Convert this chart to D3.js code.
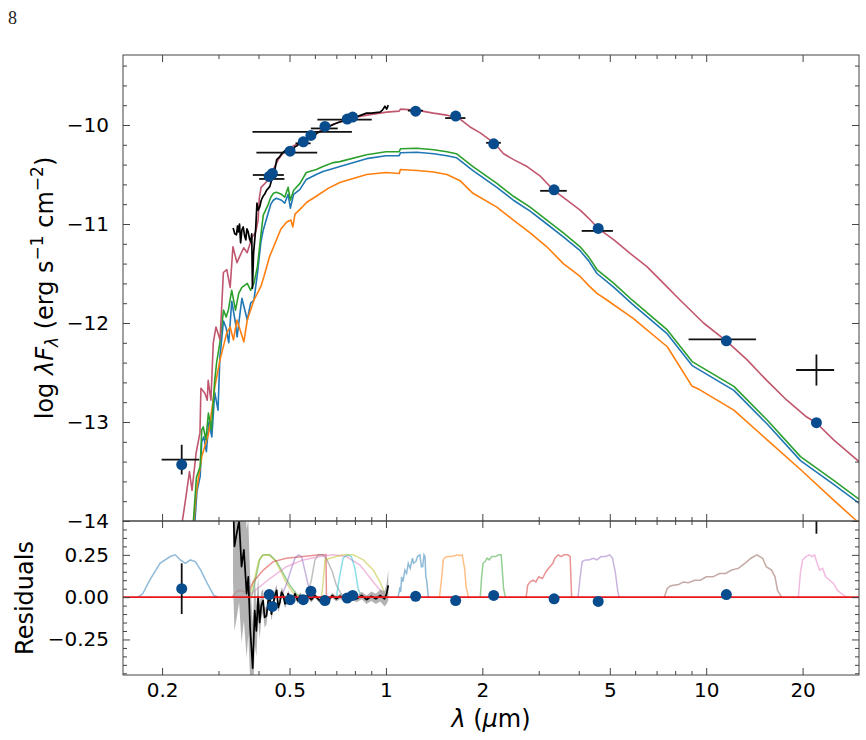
<!DOCTYPE html>
<html>
<head>
<meta charset="utf-8">
<script src="https://cdn.jsdelivr.net/npm/d3@7"></script>
<style>
  body { margin: 0; background: #fff; }
  svg { display: block; font-family: "DejaVu Sans", sans-serif; }
</style>
</head>
<body>
<svg id="chart" width="866" height="740"></svg>
<script>
// ---- photometry: wavelength (um), half width (um), observed log flux, error, model log flux
const photWave  = [0.2303, 0.432, 0.442, 0.502, 0.552, 0.583, 0.645, 0.757, 0.787, 1.238, 1.651, 2.17, 3.35, 4.60, 11.56, 22.09];
const photWidth = [0.031, 0.048, 0.040, 0.108, 0.030, 0.200, 0.062, 0.146, 0.020, 0.067, 0.12, 0.115, 0.32, 0.515, 2.75, 3.0];
const photFlux  = [-13.38, -10.505, -10.545, -10.28, -10.185, -10.07, -10.035, -9.945, -9.91, -9.855, -9.93, -10.18, -10.665, -11.07, -12.165, -12.475];
const photErr   = [0.15, 0.01, 0.01, 0.01, 0.01, 0.01, 0.01, 0.01, 0.01, 0.01, 0.01, 0.01, 0.01, 0.01, 0.01, 0.157];
const photModel = [-13.43, -10.52, -10.49, -10.265, -10.17, -10.105, -10.015, -9.94, -9.92, -9.86, -9.91, -10.19, -10.655, -11.045, -12.18, -13.007];

// ---- model spectra [wavelength, log lambda F_lambda]
const modelBest = [[0.229,-14.1],[0.2366,-13.79],[0.2435,-13.5],[0.248,-13.69],[0.2555,-13.31],[0.2626,-13.11],[0.2644,-12.66],[0.2721,-12.71],[0.2767,-12.78],[0.2786,-12.58],[0.2841,-12.78],[0.289,-12.2],[0.2947,-12.04],[0.3034,-12.17],[0.3108,-11.49],[0.3185,-11.46],[0.3263,-11.64],[0.3328,-11.23],[0.3426,-11.39],[0.3492,-11.33],[0.3597,-11.24],[0.3687,-11.29],[0.3826,-11.13],[0.3921,-11.08],[0.399,-10.96],[0.402,-10.75],[0.4075,-10.63],[0.4275,-10.56],[0.4446,-10.45],[0.4611,-10.35],[0.4782,-10.28],[0.5074,-10.22],[0.5387,-10.18],[0.5793,-10.12],[0.6522,-10.02],[0.7535,-9.94],[0.8703,-9.9],[1.005,-9.87],[1.1,-9.86],[1.11,-9.84],[1.247,-9.85],[1.406,-9.88],[1.547,-9.9],[1.703,-9.94],[1.831,-10.02],[1.97,-10.08],[2.173,-10.18],[2.33,-10.29],[2.504,-10.35],[2.759,-10.42],[3.04,-10.52],[3.345,-10.66],[3.674,-10.76],[4.04,-10.86],[4.29,-10.94],[4.62,-11.05],[5.15,-11.16],[5.8,-11.3],[6.53,-11.43],[7.36,-11.6],[8.3,-11.77],[9.81,-12.0],[11.55,-12.18],[13.4,-12.37],[15.45,-12.58],[17.86,-12.78],[20.6,-12.95],[22.1,-13.01],[25.0,-13.18],[30.0,-13.4]];
const modelGreen = [[0.248,-14.2],[0.256,-13.56],[0.263,-13.45],[0.266,-13.08],[0.269,-13.05],[0.274,-13.18],[0.279,-12.91],[0.285,-13.08],[0.292,-12.58],[0.296,-12.4],[0.303,-12.2],[0.311,-11.87],[0.317,-11.94],[0.322,-11.87],[0.33,-11.67],[0.339,-11.87],[0.347,-11.7],[0.355,-11.64],[0.369,-11.6],[0.378,-11.67],[0.387,-11.6],[0.397,-11.43],[0.407,-11.11],[0.414,-10.91],[0.428,-10.81],[0.437,-10.73],[0.445,-10.69],[0.455,-10.68],[0.472,-10.7],[0.483,-10.73],[0.495,-10.63],[0.503,-10.76],[0.515,-10.66],[0.539,-10.59],[0.564,-10.48],[0.606,-10.45],[0.636,-10.42],[0.685,-10.38],[0.718,-10.37],[0.87,-10.3],[1.0,-10.27],[1.1,-10.27],[1.11,-10.24],[1.25,-10.235],[1.41,-10.25],[1.55,-10.27],[1.66,-10.29],[1.87,-10.42],[2.22,-10.59],[2.5,-10.72],[2.82,-10.83],[3.18,-10.96],[3.58,-11.09],[4.04,-11.23],[4.29,-11.33],[4.56,-11.46],[5.15,-11.6],[5.88,-11.77],[7.56,-12.07],[9.04,-12.39],[12.2,-12.64],[15.5,-12.98],[19.7,-13.35],[25.0,-13.59],[30.0,-13.78]];
const modelBlue = [[0.252,-14.1],[0.257,-13.7],[0.263,-13.55],[0.266,-13.2],[0.27,-13.15],[0.275,-13.3],[0.28,-13.0],[0.286,-13.15],[0.292,-12.7],[0.299,-12.88],[0.303,-12.35],[0.311,-11.98],[0.317,-12.05],[0.323,-12.2],[0.33,-11.78],[0.339,-12.0],[0.343,-12.14],[0.355,-11.75],[0.369,-11.97],[0.378,-11.8],[0.387,-11.77],[0.397,-11.5],[0.407,-11.18],[0.414,-11.06],[0.428,-10.9],[0.437,-10.8],[0.445,-10.76],[0.455,-10.74],[0.472,-10.76],[0.483,-10.79],[0.495,-10.7],[0.503,-10.84],[0.515,-10.7],[0.539,-10.65],[0.564,-10.55],[0.606,-10.5],[0.636,-10.47],[0.685,-10.44],[0.718,-10.42],[0.87,-10.34],[1.0,-10.31],[1.1,-10.31],[1.11,-10.28],[1.25,-10.275],[1.41,-10.29],[1.55,-10.31],[1.66,-10.33],[1.87,-10.46],[2.22,-10.63],[2.5,-10.76],[2.82,-10.87],[3.18,-11.0],[3.58,-11.13],[4.04,-11.27],[4.29,-11.37],[4.56,-11.5],[5.15,-11.64],[5.88,-11.81],[7.56,-12.11],[9.04,-12.43],[12.2,-12.68],[15.5,-13.02],[19.7,-13.39],[25.0,-13.63],[30.0,-13.82]];
const modelOrange = [[0.25,-14.1],[0.2555,-13.72],[0.266,-13.35],[0.2797,-13.11],[0.2924,-12.64],[0.3034,-12.37],[0.3185,-12.1],[0.3263,-12.04],[0.334,-12.17],[0.3426,-11.97],[0.36,-12.19],[0.369,-11.97],[0.387,-11.77],[0.407,-11.63],[0.416,-11.53],[0.433,-11.33],[0.45,-11.2],[0.47,-11.05],[0.49,-10.98],[0.505,-10.96],[0.512,-11.03],[0.52,-10.9],[0.54,-10.85],[0.566,-10.78],[0.606,-10.72],[0.66,-10.64],[0.718,-10.58],[0.87,-10.5],[1.0,-10.48],[1.1,-10.49],[1.11,-10.45],[1.25,-10.46],[1.41,-10.475],[1.55,-10.5],[1.7,-10.56],[1.87,-10.69],[2.22,-10.83],[2.5,-10.96],[2.82,-11.09],[3.18,-11.23],[3.58,-11.4],[4.04,-11.53],[4.29,-11.62],[4.56,-11.7],[4.91,-11.77],[5.9,-11.95],[7.56,-12.24],[9.04,-12.64],[9.5,-12.67],[12.2,-12.88],[15.5,-13.18],[19.7,-13.48],[25.0,-13.79],[29.3,-13.99],[30.0,-14.02]];

// ---- observed spectrum and its residuals [wavelength, residual, error]
const specFlux = [[0.3333,-11.04],[0.3375,-11.1],[0.3414,-11.11],[0.344,-11.02],[0.346,-11.08],[0.349,-11.0],[0.3517,-11.19],[0.355,-11.06],[0.3584,-11.03],[0.362,-11.12],[0.3652,-11.16],[0.368,-11.05],[0.3714,-11.08],[0.375,-11.15],[0.3784,-11.18],[0.381,-11.1],[0.383,-11.65],[0.386,-11.3],[0.3893,-11.16],[0.392,-11.05],[0.3956,-10.79],[0.399,-10.86],[0.4033,-10.83],[0.408,-10.76],[0.4133,-10.72],[0.418,-10.7],[0.4236,-10.66],[0.429,-10.64],[0.4341,-10.62],[0.44,-10.55],[0.4448,-10.49],[0.45,-10.45],[0.4559,-10.35],[0.463,-10.33],[0.4726,-10.29],[0.48,-10.27],[0.4899,-10.24],[0.497,-10.27],[0.5078,-10.3],[0.5196,-10.22],[0.528,-10.21],[0.5387,-10.18],[0.55,-10.17],[0.565,-10.15],[0.5928,-10.12],[0.61,-10.08],[0.63,-10.06],[0.6522,-10.02],[0.67,-10.01],[0.69,-9.99],[0.7181,-9.97],[0.74,-9.96],[0.7905,-9.92],[0.82,-9.91],[0.8703,-9.88],[0.9,-9.88],[0.9578,-9.87],[0.975,-9.85],[0.9928,-9.81],[1.005,-9.84],[1.017,-9.8]];
const specResid = [[0.333,0.6,0.5],[0.3365,0.3,0.5],[0.3414,0.37,0.5],[0.348,0.45,0.48],[0.3541,0.18,0.45],[0.3601,0.28,0.42],[0.3673,0.02,0.38],[0.3717,0.12,0.34],[0.3766,-0.18,0.3],[0.3837,-0.42,0.26],[0.3893,-0.08,0.2],[0.394,-0.2,0.15],[0.399,0.0,0.12],[0.4033,-0.15,0.1],[0.408,-0.05,0.08],[0.4133,-0.02,0.07],[0.418,-0.12,0.06],[0.4236,-0.11,0.05],[0.429,-0.02,0.05],[0.4341,0.0,0.045],[0.439,-0.1,0.04],[0.4448,-0.04,0.04],[0.45,0.01,0.035],[0.4559,0.04,0.035],[0.461,-0.06,0.03],[0.4668,-0.03,0.03],[0.472,0.03,0.03],[0.4783,0.01,0.025],[0.484,-0.04,0.025],[0.4899,-0.02,0.025],[0.495,0.02,0.02],[0.5012,0.0,0.02],[0.51,-0.03,0.02],[0.52,0.02,0.02],[0.53,-0.02,0.02],[0.54,0.01,0.018],[0.555,-0.02,0.018],[0.57,0.01,0.016],[0.585,-0.015,0.016],[0.6,0.01,0.015],[0.62,-0.02,0.015],[0.64,0.0,0.015],[0.66,-0.02,0.015],[0.68,0.01,0.015],[0.7,-0.01,0.016],[0.72,0.005,0.016],[0.75,-0.015,0.018],[0.78,0.005,0.018],[0.81,-0.01,0.02],[0.84,0.01,0.022],[0.87,-0.015,0.025],[0.9,0.005,0.028],[0.93,-0.01,0.03],[0.96,0.01,0.035],[0.99,-0.01,0.045],[1.005,0.02,0.06],[1.017,0.07,0.09]];

// ---- filter transmission curves (scaled to 0.25) [wavelength, value]
const filtNUV = [[0.168,0],[0.174,0.02],[0.183,0.1],[0.197,0.2],[0.212,0.24],[0.22,0.25],[0.228,0.22],[0.2365,0.2],[0.245,0.22],[0.254,0.21],[0.264,0.16],[0.277,0.08],[0.29,0.01],[0.3,0]];
const filtBT = [[0.381,0],[0.394,0.13],[0.403,0.22],[0.4133,0.25],[0.434,0.25],[0.456,0.21],[0.478,0.14],[0.501,0.07],[0.525,0.02],[0.545,0]];
const filtB = [[0.375,0],[0.39,0.12],[0.4,0.21],[0.41,0.245],[0.43,0.25],[0.45,0.22],[0.47,0.15],[0.49,0.08],[0.515,0.02],[0.54,0]];
const filtBP = [[0.331,0],[0.34,0.03],[0.35,0.04],[0.362,0.03],[0.372,0.03],[0.385,0.09],[0.414,0.16],[0.445,0.21],[0.489,0.23],[0.551,0.24],[0.621,0.25],[0.65,0.25],[0.652,0]];
const filtV = [[0.47,0],[0.49,0.08],[0.505,0.16],[0.52,0.23],[0.533,0.25],[0.545,0.24],[0.558,0.16],[0.572,0.07],[0.59,0.01],[0.6,0]];
const filtR = [[0.565,0],[0.585,0.1],[0.6,0.22],[0.615,0.25],[0.635,0.25],[0.655,0.22],[0.68,0.15],[0.7,0.07],[0.725,0.02],[0.74,0]];
const filtG = [[0.367,0],[0.385,0.03],[0.434,0.11],[0.489,0.18],[0.551,0.22],[0.621,0.24],[0.685,0.25],[0.753,0.24],[0.83,0.19],[0.913,0.09],[0.98,0.02],[1.0,0]];
const filtI = [[0.7,0],[0.718,0.13],[0.735,0.23],[0.757,0.25],[0.78,0.24],[0.8,0.17],[0.819,0.05],[0.839,0]];
const filtRP = [[0.629,0],[0.637,0.09],[0.645,0.22],[0.668,0.23],[0.7,0.24],[0.735,0.25],[0.79,0.25],[0.85,0.22],[0.913,0.16],[0.958,0.09],[0.993,0.02],[1.017,0]];
const filtJ = [[1.09,0],[1.1,0.03],[1.106,0.06],[1.112,0.03],[1.119,0.12],[1.13,0.09],[1.146,0.16],[1.16,0.14],[1.174,0.2],[1.19,0.17],[1.21,0.23],[1.22,0.2],[1.24,0.21],[1.255,0.24],[1.277,0.25],[1.29,0.18],[1.302,0.18],[1.315,0.25],[1.324,0.24],[1.332,0.12],[1.34,0.1],[1.356,0]];
const filtH = [[1.47,0],[1.49,0.1],[1.51,0.22],[1.53,0.235],[1.56,0.24],[1.6,0.24],[1.64,0.245],[1.67,0.25],[1.7,0.245],[1.73,0.25],[1.76,0.17],[1.78,0.06],[1.81,0]];
const filtKs = [[1.97,0],[1.99,0.12],[2.01,0.2],[2.04,0.21],[2.07,0.23],[2.1,0.22],[2.14,0.24],[2.2,0.24],[2.25,0.25],[2.29,0.25],[2.31,0.15],[2.33,0.05],[2.36,0]];
const filtW1 = [[2.74,0],[2.77,0.07],[2.82,0.09],[2.88,0.1],[2.94,0.09],[3.0,0.12],[3.08,0.11],[3.16,0.15],[3.25,0.18],[3.32,0.2],[3.37,0.23],[3.45,0.25],[3.52,0.24],[3.6,0.25],[3.7,0.25],[3.76,0.24],[3.8,0]];
const filtW2 = [[3.98,0],[4.03,0.1],[4.1,0.21],[4.2,0.22],[4.3,0.22],[4.45,0.23],[4.55,0.22],[4.7,0.24],[4.85,0.24],[5.0,0.25],[5.1,0.23],[5.2,0.15],[5.3,0.03],[5.35,0]];
const filtW3 = [[7.4,0],[7.55,0.05],[7.7,0.065],[7.9,0.07],[8.2,0.075],[8.5,0.09],[8.8,0.085],[9.2,0.1],[9.6,0.1],[10.0,0.12],[10.5,0.12],[11.0,0.14],[11.5,0.14],[12.0,0.16],[12.6,0.17],[13.2,0.2],[13.8,0.23],[14.4,0.25],[15.0,0.23],[15.4,0.18],[16.0,0.16],[16.4,0.12],[16.7,0.04],[17.2,0]];
const filtW4 = [[19.4,0],[19.7,0.15],[20.0,0.22],[20.5,0.24],[21.0,0.25],[21.4,0.24],[21.8,0.25],[22.2,0.2],[22.6,0.16],[23.1,0.17],[23.6,0.12],[24.3,0.1],[25.0,0.08],[25.7,0.04],[26.5,0.02],[27.4,0]];

// ---- ticks
const xMajor = [0.2, 0.5, 1, 2, 5, 10, 20];
const xMinor = [0.3, 0.4, 0.6, 0.7, 0.8, 0.9, 3, 4, 6, 7, 8, 9];
const yTopMajor = [-14, -13, -12, -11, -10];
const yResMajor = [-0.25, 0, 0.25];

const svg = d3.select("#chart");
const pLeft = 123, pRight = 859, pTop = 55, pMid = 521, pBottom = 675;

const x = d3.scaleLog().domain([0.151, 30.0]).range([pLeft, pRight]);
const yTop = d3.scaleLinear().domain([-14, -9.293]).range([pMid, pTop]);
const yRes = d3.scaleLinear().domain([-0.46, 0.45]).range([pBottom, pMid]);

// minor tick positions
const yTopMinor = [];
for (let i = 0; i <= 23; i++) { if (i % 5 !== 0) yTopMinor.push(-14 + i * 0.2); }
const yResMinor = [];
for (let i = -9; i <= 9; i++) { if (i % 5 !== 0) yResMinor.push(i * 0.05); }

// clip paths
const defs = svg.append("defs");
defs.append("clipPath").attr("id", "clipTop").append("rect")
    .attr("x", pLeft).attr("y", pTop).attr("width", pRight - pLeft).attr("height", pMid - pTop);
defs.append("clipPath").attr("id", "clipRes").append("rect")
    .attr("x", pLeft).attr("y", pMid).attr("width", pRight - pLeft).attr("height", pBottom - pMid);

// ---------------- top panel
const gTop = svg.append("g").attr("clip-path", "url(#clipTop)");
const lineTop = d3.line().x(d => x(d[0])).y(d => yTop(d[1]));

const models = [
    { data: modelBlue,   color: "#1f77b4" },
    { data: modelOrange, color: "#ff7f0e" },
    { data: modelGreen,  color: "#2ca02c" },
    { data: modelBest,   color: "#c0576f" }
];
models.forEach(m => {
    gTop.append("path").datum(m.data)
        .attr("d", lineTop).attr("fill", "none")
        .attr("stroke", m.color).attr("stroke-width", 1.6).attr("stroke-linejoin", "round");
});
gTop.append("path").datum(specFlux)
    .attr("d", lineTop).attr("fill", "none")
    .attr("stroke", "#000").attr("stroke-width", 1.7).attr("stroke-linejoin", "round");

// error bars
photWave.forEach((w, i) => {
    gTop.append("line")
        .attr("x1", x(w - photWidth[i])).attr("x2", x(w + photWidth[i]))
        .attr("y1", yTop(photFlux[i])).attr("y2", yTop(photFlux[i]))
        .attr("stroke", "#111").attr("stroke-width", 1.8);
    gTop.append("line")
        .attr("x1", x(w)).attr("x2", x(w))
        .attr("y1", yTop(photFlux[i] - photErr[i])).attr("y2", yTop(photFlux[i] + photErr[i]))
        .attr("stroke", "#111").attr("stroke-width", 1.8);
});
gTop.selectAll("circle.model").data(photWave).join("circle")
    .attr("cx", d => x(d)).attr("cy", (d, i) => yTop(photModel[i]))
    .attr("r", 5.5).attr("fill", "#084c8d");

// ---------------- residual panel
const gRes = svg.append("g").attr("clip-path", "url(#clipRes)");
const lineRes = d3.line().x(d => x(d[0])).y(d => yRes(d[1]));

const filters = [
    { data: filtNUV, color: "#1f77b4" },
    { data: filtBT,  color: "#2ca02c" },
    { data: filtB,   color: "#bcbd22" },
    { data: filtBP,  color: "#d62728" },
    { data: filtV,   color: "#9467bd" },
    { data: filtR,   color: "#7f7f7f" },
    { data: filtG,   color: "#e377c2" },
    { data: filtI,   color: "#17becf" },
    { data: filtRP,  color: "#bcbd22" },
    { data: filtJ,   color: "#1f77b4" },
    { data: filtH,   color: "#ff7f0e" },
    { data: filtKs,  color: "#2ca02c" },
    { data: filtW1,  color: "#d62728" },
    { data: filtW2,  color: "#9467bd" },
    { data: filtW3,  color: "#8c564b" },
    { data: filtW4,  color: "#e377c2" }
];
filters.forEach(f => {
    gRes.append("path").datum(f.data)
        .attr("d", lineRes).attr("fill", "none")
        .attr("stroke", f.color).attr("stroke-opacity", 0.5).attr("stroke-width", 1.5);
});

// spectrum residual with error band
gRes.append("path").datum(specResid)
    .attr("d", d3.area().x(d => x(d[0])).y0(d => yRes(d[1] - d[2])).y1(d => yRes(d[1] + d[2])))
    .attr("fill", "#9a9a9a").attr("fill-opacity", 0.75);
gRes.append("path").datum(specResid)
    .attr("d", lineRes).attr("fill", "none")
    .attr("stroke", "#000").attr("stroke-width", 1.7).attr("stroke-linejoin", "round");

gRes.append("line")
    .attr("x1", pLeft).attr("x2", pRight).attr("y1", yRes(0)).attr("y2", yRes(0))
    .attr("stroke", "#e8141a").attr("stroke-width", 1.6);

photWave.forEach((w, i) => {
    const r = photFlux[i] - photModel[i];
    gRes.append("line")
        .attr("x1", x(w)).attr("x2", x(w))
        .attr("y1", yRes(r - photErr[i])).attr("y2", yRes(r + photErr[i]))
        .attr("stroke", "#111").attr("stroke-width", 1.8);
});
gRes.selectAll("circle.res").data(photWave).join("circle")
    .attr("cx", d => x(d)).attr("cy", (d, i) => yRes(photFlux[i] - photModel[i]))
    .attr("r", 5.5).attr("fill", "#084c8d");

// ---------------- axes
function styleAxis(g) {
    g.select(".domain").remove();
    g.selectAll(".tick line").attr("stroke", "#444");
    g.selectAll(".tick text").attr("fill", "#000").attr("font-size", 20)
        .attr("font-family", "DejaVu Sans, sans-serif");
}
function addAxis(gen, tx, ty) {
    svg.append("g").attr("transform", `translate(${tx},${ty})`).call(gen).call(styleAxis);
}
const none = () => "";

// top panel
addAxis(d3.axisLeft(yTop).tickValues(yTopMajor).tickSizeInner(-7).tickSizeOuter(0).tickPadding(14).tickFormat(d3.format("d")), pLeft, 0);
addAxis(d3.axisLeft(yTop).tickValues(yTopMinor).tickSizeInner(-4).tickSizeOuter(0).tickFormat(none), pLeft, 0);
addAxis(d3.axisLeft(yTop).tickValues(yTopMajor).tickSizeInner(7).tickSizeOuter(0).tickFormat(none), pRight, 0);
addAxis(d3.axisLeft(yTop).tickValues(yTopMinor).tickSizeInner(4).tickSizeOuter(0).tickFormat(none), pRight, 0);
addAxis(d3.axisBottom(x).tickValues(xMajor).tickSizeInner(7).tickSizeOuter(0).tickFormat(none), 0, pTop);
addAxis(d3.axisBottom(x).tickValues(xMinor).tickSizeInner(4).tickSizeOuter(0).tickFormat(none), 0, pTop);
addAxis(d3.axisTop(x).tickValues(xMajor).tickSizeInner(7).tickSizeOuter(0).tickFormat(none), 0, pMid);
addAxis(d3.axisTop(x).tickValues(xMinor).tickSizeInner(4).tickSizeOuter(0).tickFormat(none), 0, pMid);

// residual panel
addAxis(d3.axisLeft(yRes).tickValues(yResMajor).tickSizeInner(-7).tickSizeOuter(0).tickPadding(14).tickFormat(d3.format(".2f")), pLeft, 0);
addAxis(d3.axisLeft(yRes).tickValues(yResMinor).tickSizeInner(-4).tickSizeOuter(0).tickFormat(none), pLeft, 0);
addAxis(d3.axisLeft(yRes).tickValues(yResMajor).tickSizeInner(7).tickSizeOuter(0).tickFormat(none), pRight, 0);
addAxis(d3.axisLeft(yRes).tickValues(yResMinor).tickSizeInner(4).tickSizeOuter(0).tickFormat(none), pRight, 0);
addAxis(d3.axisBottom(x).tickValues(xMajor).tickSizeInner(7).tickSizeOuter(0).tickFormat(none), 0, pMid);
addAxis(d3.axisBottom(x).tickValues(xMinor).tickSizeInner(4).tickSizeOuter(0).tickFormat(none), 0, pMid);
addAxis(d3.axisBottom(x).tickValues(xMajor).tickSizeInner(-7).tickSizeOuter(0).tickPadding(8).tickFormat(d => String(d)), 0, pBottom);
addAxis(d3.axisBottom(x).tickValues(xMinor).tickSizeInner(-4).tickSizeOuter(0).tickFormat(none), 0, pBottom);

// frames
[[pTop, pMid], [pMid, pBottom]].forEach(([a, b]) => {
    svg.append("rect").attr("x", pLeft).attr("y", a).attr("width", pRight - pLeft).attr("height", b - a)
        .attr("fill", "none").attr("stroke", "#444").attr("stroke-width", 1);
});

// ---------------- labels
const yl = svg.append("text")
    .attr("transform", `translate(53,${(pTop + pMid) / 2}) rotate(-90)`)
    .attr("text-anchor", "middle").attr("font-size", 24).attr("fill", "#000");
yl.append("tspan").text("log ");
yl.append("tspan").attr("font-style", "italic").text("λF");
yl.append("tspan").attr("font-style", "italic").attr("font-size", 17).attr("dy", 5).text("λ");
yl.append("tspan").attr("dy", -5).text(" (erg s");
yl.append("tspan").attr("font-size", 17).attr("dy", -10).text("−1");
yl.append("tspan").attr("dy", 10).text(" cm");
yl.append("tspan").attr("font-size", 17).attr("dy", -10).text("−2");
yl.append("tspan").attr("dy", 10).text(")");

svg.append("text")
    .attr("transform", `translate(33,${(pMid + pBottom) / 2}) rotate(-90)`)
    .attr("text-anchor", "middle").attr("font-size", 24).attr("fill", "#000")
    .text("Residuals");

const xl = svg.append("text")
    .attr("x", (pLeft + pRight) / 2).attr("y", 727)
    .attr("text-anchor", "middle").attr("font-size", 24).attr("fill", "#000");
xl.append("tspan").attr("font-style", "italic").text("λ");
xl.append("tspan").text(" (");
xl.append("tspan").attr("font-style", "italic").text("μ");
xl.append("tspan").text("m)");

svg.append("text").attr("x", 8).attr("y", 24)
    .attr("font-family", "Liberation Serif, serif").attr("font-size", 18).attr("fill", "#222")
    .text("8");
</script>
</body>
</html>
